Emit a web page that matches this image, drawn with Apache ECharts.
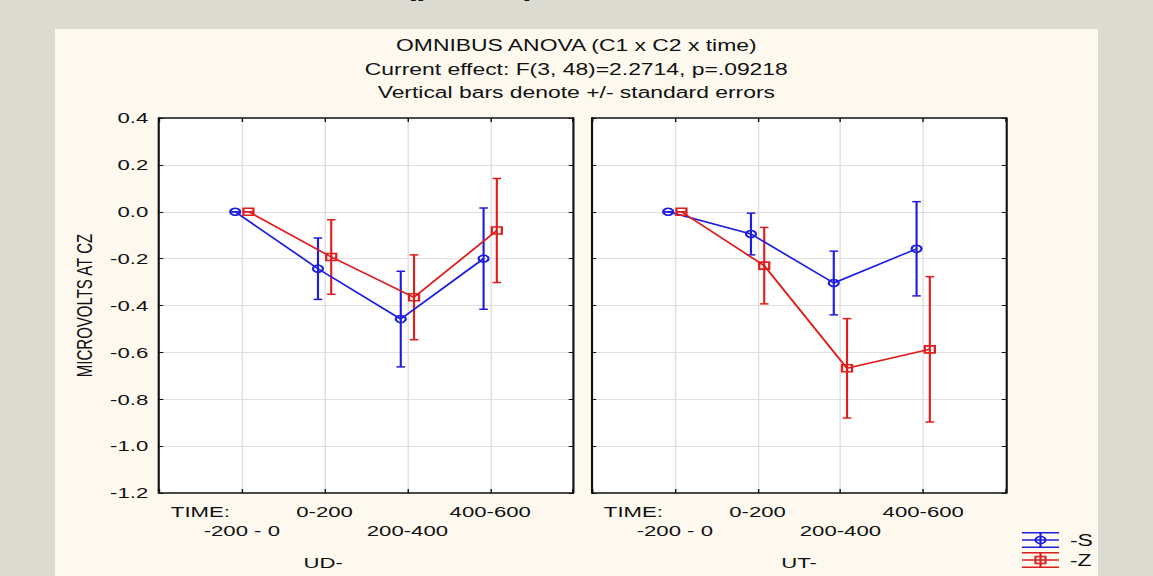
<!DOCTYPE html>
<html lang="en">
<head>
<meta charset="UTF-8">
<title>OMNIBUS ANOVA (C1 x C2 x time)</title>
<script src="https://cdn.jsdelivr.net/npm/echarts@6/dist/echarts.min.js"></script>
<style>
    html, body { margin: 0; padding: 0; background: #dbdbd1; overflow: hidden; }
    #panel { position: absolute; left: 55px; top: 29px; width: 1043px; height: 560px; background: #fdf9ef; }
    #main { position: absolute; left: 0; top: 0; height: 576px; transform-origin: 0 0; }
</style>
</head>
<body>
<div id="panel"></div>
<div id="main"></div>

<script>
    // values
    const timeLabels = ['-200 - 0', '0-200', '200-400', '400-600'];
    const panelNames = ['UD-', 'UT-'];

    const udS = [0, -0.243, -0.458, -0.200];
    const udSse = [0, 0.131, 0.204, 0.216];
    const udZ = [0, -0.193, -0.365, -0.080];
    const udZse = [0, 0.159, 0.181, 0.222];

    const utS = [0, -0.095, -0.304, -0.158];
    const utSse = [0, 0.089, 0.136, 0.201];
    const utZ = [0, -0.230, -0.668, -0.587];
    const utZse = [0, 0.163, 0.212, 0.310];

    const FONT = '"Liberation Sans", Arial, sans-serif';
    const BLUE = '#1e1ee0';
    const RED = '#e01e1e';
    const GRIDLINE = '#e0e0e0';

    // the original picture is stretched sideways, so draw narrow and scale x
    const SX = 1.43;
    const W = 1153 / SX;
    const el = document.getElementById('main');
    el.style.width = W + 'px';
    el.style.transform = 'scaleX(' + SX + ')';

    const gridLeft = [159 / SX, 592 / SX];
    const gridW = 414 / SX;

    const frameLine = {show: true, onZero: false, lineStyle: {color: '#111', width: 1.5}};

    function xAxes(p) {
        return [
            {
                gridIndex: p, type: 'value', min: 0, max: 5, interval: 1, position: 'bottom',
                axisLine: frameLine,
                axisTick: {inside: true, length: 4, lineStyle: {color: '#111'}},
                splitLine: {show: true, showMinLine: false, showMaxLine: false, lineStyle: {color: GRIDLINE}},
                axisLabel: {
                    margin: 9, fontSize: 15.5, lineHeight: 19, color: '#111', fontFamily: FONT,
                    formatter: v => {
                        const lab = timeLabels[v - 1];
                        if (!lab) return '';
                        return v % 2 === 1 ? '\n' + lab : lab;
                    }
                },
                name: panelNames[p], nameLocation: 'middle', nameGap: 62,
                nameTextStyle: {fontSize: 15.5, color: '#111', fontFamily: FONT, padding: p === 0 ? [0, 60, 0, 0] : 0}
            },
            {
                gridIndex: p, type: 'value', min: 0, max: 5, interval: 0.5, position: 'bottom',
                axisLine: {show: false, onZero: false}, axisTick: {show: false}, splitLine: {show: false},
                axisLabel: {
                    margin: 9, fontSize: 15.5, lineHeight: 19, color: '#111', fontFamily: FONT,
                    formatter: v => v === 0.5 ? 'TIME:' : ''
                }
            },
            {
                gridIndex: p, type: 'value', min: 0, max: 5, interval: 1, position: 'top',
                axisLine: frameLine,
                axisTick: {inside: true, length: 4, lineStyle: {color: '#111'}},
                axisLabel: {show: false}, splitLine: {show: false}
            }
        ];
    }

    function yAxes(p) {
        return [
            {
                gridIndex: p, type: 'value', min: -1.2, max: 0.4, interval: 0.2, position: 'left',
                axisLine: frameLine,
                axisTick: {inside: true, length: 3, lineStyle: {color: '#111'}},
                splitLine: {show: true, showMinLine: false, showMaxLine: false, lineStyle: {color: GRIDLINE}},
                axisLabel: {
                    show: p === 0, margin: 7.5, fontSize: 15.5, color: '#111', fontFamily: FONT,
                    formatter: v => v.toFixed(1)
                },
                name: p === 0 ? 'MICROVOLTS AT CZ' : '', nameLocation: 'middle', nameRotate: 90, nameGap: 44.5,
                nameTextStyle: {fontSize: 15, color: '#111', fontFamily: FONT}
            },
            {
                gridIndex: p, type: 'value', min: -1.2, max: 0.4, interval: 0.2, position: 'right',
                axisLine: frameLine,
                axisTick: {inside: true, length: 3, lineStyle: {color: '#111'}},
                axisLabel: {show: false}, splitLine: {show: false}
            }
        ];
    }

    const OFF = 0.08;  // groups are drawn a little left / right of each time point

    function lineSeries(p, vals, color, symbol, off) {
        return {
            type: 'line', xAxisIndex: 3 * p, yAxisIndex: 2 * p,
            data: vals.map((v, i) => [i + 1 + off, v]),
            symbol: symbol, symbolSize: 7, showAllSymbol: true,
            lineStyle: {color: color, width: 1.5},
            itemStyle: {color: 'rgba(255,255,255,0)', borderColor: color, borderWidth: 1.6},
            emphasis: {disabled: true}, silent: true, z: 3
        };
    }

    function errSeries(p, vals, se, color, off) {
        return {
            type: 'custom', xAxisIndex: 3 * p, yAxisIndex: 2 * p,
            data: vals.map((v, i) => [i + 1 + off, v - se[i], v + se[i]]),
            encode: {x: 0, y: [1, 2]},
            silent: true, z: 2,
            renderItem: (params, api) => {
                const lo = api.coord([api.value(0), api.value(1)]);
                const hi = api.coord([api.value(0), api.value(2)]);
                const w = 3;
                const st = {stroke: color, lineWidth: 1.5};
                return {
                    type: 'group', children: [
                        {type: 'line', shape: {x1: lo[0], y1: lo[1], x2: hi[0], y2: hi[1]}, style: st},
                        {type: 'line', shape: {x1: lo[0] - w, y1: lo[1], x2: lo[0] + w, y2: lo[1]}, style: st},
                        {type: 'line', shape: {x1: hi[0] - w, y1: hi[1], x2: hi[0] + w, y2: hi[1]}, style: st}
                    ]
                };
            }
        };
    }

    // legend drawn by hand: error-bar glyph with marker
    function legendItem(cy, color, marker, label) {
        const x1 = 1022 / SX, x2 = 1059 / SX, cx = (x1 + x2) / 2;
        const st = {stroke: color, lineWidth: 1.5};
        const m = marker === 'circle'
            ? {type: 'circle', shape: {cx: cx, cy: cy, r: 3.5}, style: {fill: 'none', stroke: color, lineWidth: 1.5}}
            : {type: 'rect', shape: {x: cx - 3.5, y: cy - 3.5, width: 7, height: 7}, style: {fill: 'none', stroke: color, lineWidth: 1.5}};
        return [
            {type: 'line', shape: {x1: x1, y1: cy - 7.3, x2: x2, y2: cy - 7.3}, style: st},
            {type: 'line', shape: {x1: x1, y1: cy, x2: x2, y2: cy}, style: st},
            {type: 'line', shape: {x1: x1, y1: cy + 7.3, x2: x2, y2: cy + 7.3}, style: st},
            {type: 'line', shape: {x1: cx, y1: cy - 7.3, x2: cx, y2: cy + 7.3}, style: st},
            m,
            {type: 'text', x: 1070 / SX, y: cy, style: {text: label, font: '16px ' + FONT, fill: '#111', verticalAlign: 'middle'}}
        ];
    }

    const myChart = echarts.init(el, null, {renderer: 'svg'});

    const option = {
        animation: false,
        backgroundColor: 'transparent',
        title: {
            text: 'OMNIBUS ANOVA (C1 x C2 x time)\nCurrent effect: F(3, 48)=2.2714, p=.09218\nVertical bars denote +/- standard errors',
            left: 'center', top: 34, padding: [0, 0, 0, 6],
            textStyle: {fontSize: 16, fontWeight: 'normal', lineHeight: 23.5, color: '#111', fontFamily: FONT}
        },
        grid: [0, 1].map(p => ({
            left: gridLeft[p], top: 118, width: gridW, height: 377.6,
            show: true, backgroundColor: '#fff', borderWidth: 0
        })),
        xAxis: xAxes(0).concat(xAxes(1)),
        yAxis: yAxes(0).concat(yAxes(1)),
        series: [
            errSeries(0, udS, udSse, BLUE, -OFF),
            errSeries(0, udZ, udZse, RED, OFF),
            lineSeries(0, udS, BLUE, 'circle', -OFF),
            lineSeries(0, udZ, RED, 'rect', OFF),
            errSeries(1, utS, utSse, BLUE, -OFF),
            errSeries(1, utZ, utZse, RED, OFF),
            lineSeries(1, utS, BLUE, 'circle', -OFF),
            lineSeries(1, utZ, RED, 'rect', OFF)
        ],
        graphic: [
            // slide heading, cut off at the top edge of the picture
            {type: 'text', x: 283, y: -1, style: {text: '(p = .09)', font: 'bold 24px ' + FONT, fill: '#111', verticalAlign: 'bottom'}}
        ].concat(legendItem(540, BLUE, 'circle', '-S'), legendItem(560, RED, 'rect', '-Z'))
    };

    myChart.setOption(option);
</script>
</body>
</html>
